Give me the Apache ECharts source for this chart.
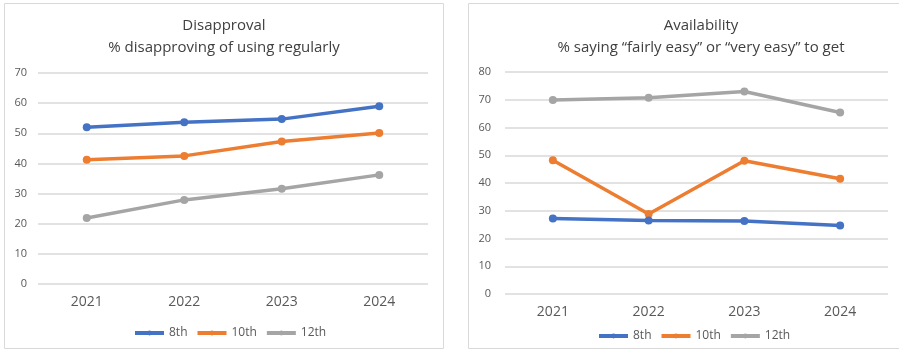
<!DOCTYPE html>
<html>
<head>
<meta charset="utf-8">
<style>
  html, body { margin: 0; padding: 0; background: #fff; }
  #chart { width: 899px; height: 350px; }
</style>
<script src="https://cdn.jsdelivr.net/npm/echarts@6/dist/echarts.min.js"></script>
</head>
<body>
<div id="chart"></div>
<script>
var years = ["2021", "2022", "2023", "2024"];
var grades = ["8th", "10th", "12th"];
var colors = ["#4472C4", "#ED7D31", "#A5A5A5"];

// Disapproval: % disapproving of using regularly
var disapprove8 = [52.0, 53.7, 54.7, 59.0];
var disapprove10 = [41.2, 42.5, 47.3, 50.1];
var disapprove12 = [21.9, 27.9, 31.6, 36.2];

// Availability: % saying fairly/very easy to get
var avail8 = [27.2, 26.5, 26.3, 24.7];
var avail10 = [48.2, 28.8, 48.0, 41.5];
var avail12 = [69.9, 70.7, 73.0, 65.4];

var font = "'Open Sans', 'Noto Sans', sans-serif";

function lineSeries(name, data, idx, axis) {
  return {
    name: name,
    type: 'line',
    xAxisIndex: axis,
    yAxisIndex: axis,
    data: data,
    symbol: 'circle',
    symbolSize: 8,
    lineStyle: { width: 3.5, color: colors[idx] },
    itemStyle: { color: colors[idx] },
    z: 3 - idx
  };
}

function legendFor(left, top) {
  return {
    data: grades,
    left: left,
    top: top,
    itemWidth: 29,
    itemHeight: 6,
    itemGap: 8,
    selectedMode: false,
    lineStyle: { width: 4 },
    textStyle: { fontFamily: font, fontSize: 12, color: '#595959' }
  };
}

var myChart = echarts.init(document.getElementById('chart'));
var option = {
  animation: false,
  graphic: [
    { type: 'rect', shape: { x: 4.5, y: 3.5, width: 439, height: 345 }, style: { fill: 'none', stroke: '#d9d9d9', lineWidth: 1 } },
    { type: 'rect', shape: { x: 468.5, y: 3.5, width: 440, height: 345 }, style: { fill: 'none', stroke: '#d9d9d9', lineWidth: 1 } }
  ],
  title: [
    {
      text: 'Disapproval\n% disapproving of using regularly',
      left: 219, top: 10, textAlign: 'center',
      textStyle: { fontFamily: font, fontSize: 15, fontWeight: 'normal', color: '#404040', lineHeight: 22 }
    },
    {
      text: 'Availability\n% saying \u201cfairly easy\u201d or \u201cvery easy\u201d to get',
      left: 696, top: 10, textAlign: 'center',
      textStyle: { fontFamily: font, fontSize: 15, fontWeight: 'normal', color: '#404040', lineHeight: 22 }
    }
  ],
  legend: [legendFor(128, 322), legendFor(592, 325)],
  grid: [
    { left: 38, right: 471, top: 73, bottom: 66 },
    { left: 505, right: 11, top: 72, bottom: 56 }
  ],
  xAxis: [0, 1].map(function (i) {
    return {
      type: 'category',
      gridIndex: i,
      data: years,
      axisLine: { show: false },
      axisTick: { show: false },
      axisLabel: { fontFamily: font, fontSize: 14, color: '#595959', margin: 11 }
    };
  }),
  yAxis: [
    { type: 'value', gridIndex: 0, min: 0, max: 70, interval: 10 },
    { type: 'value', gridIndex: 1, min: 0, max: 80, interval: 10 }
  ].map(function (a) {
    a.axisLine = { show: false };
    a.axisTick = { show: false };
    a.axisLabel = { fontFamily: font, fontSize: 11, color: '#595959', margin: a.gridIndex ? 14 : 11 };
    a.splitLine = { lineStyle: { color: '#d9d9d9', width: 1.5 } };
    return a;
  }),
  series: [
    lineSeries('8th', disapprove8, 0, 0),
    lineSeries('10th', disapprove10, 1, 0),
    lineSeries('12th', disapprove12, 2, 0),
    lineSeries('8th', avail8, 0, 1),
    lineSeries('10th', avail10, 1, 1),
    lineSeries('12th', avail12, 2, 1)
  ]
};
myChart.setOption(option);
</script>
</body>
</html>
